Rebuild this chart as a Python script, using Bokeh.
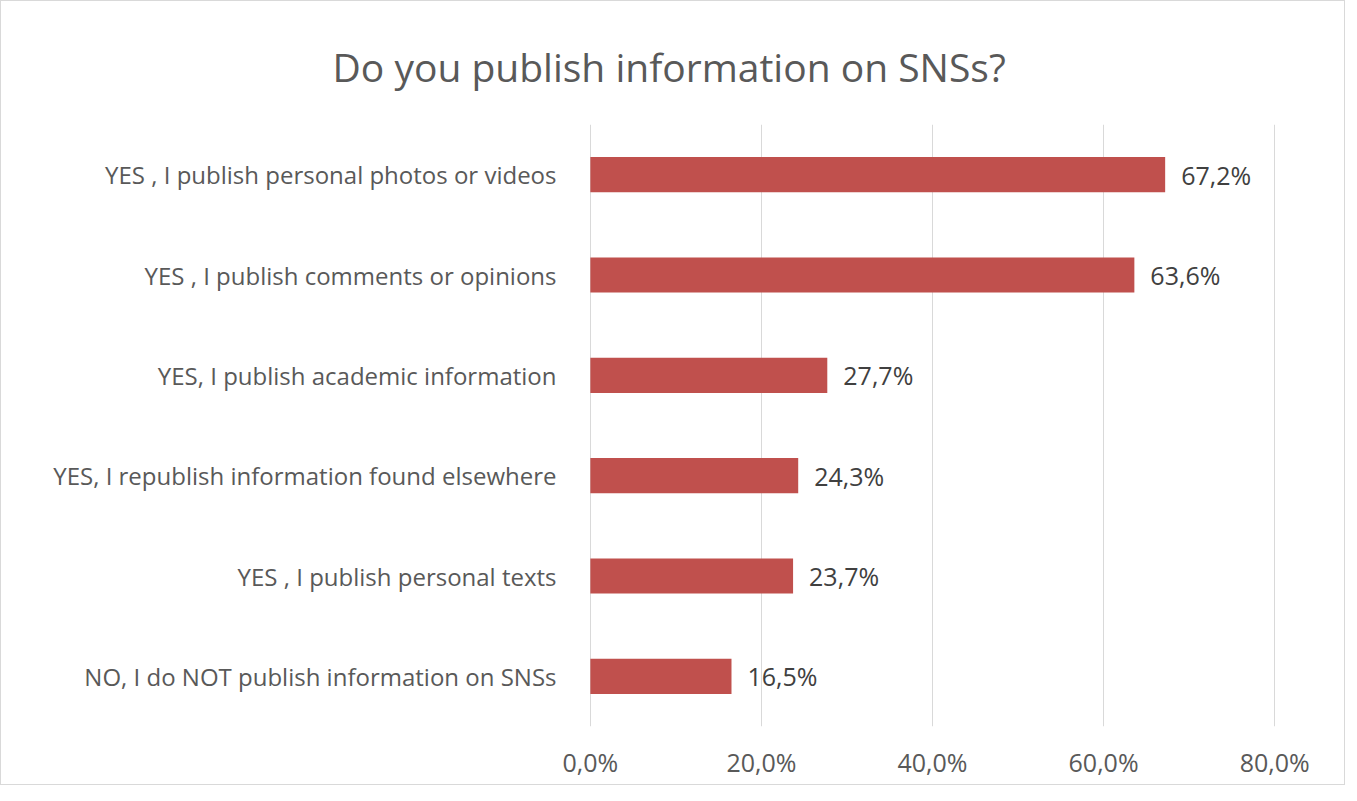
from bokeh.plotting import figure
from bokeh.models import FactorRange, Range1d, FixedTicker, Title, ColumnDataSource
from bokeh.embed import file_html
from bokeh.resources import INLINE
from bokeh.core.properties import value

title_text = "Do you publish information on SNSs?"
categories = [
    "YES , I publish personal photos or videos",
    "YES , I publish comments or opinions",
    "YES, I publish academic information",
    "YES, I republish information found elsewhere",
    "YES , I publish personal texts",
    "NO, I do NOT publish information on SNSs",
]
percent = [67.2, 63.6, 27.7, 24.3, 23.7, 16.5]
tick_values = [0, 20, 40, 60, 80]
tick_labels = ["0,0%", "20,0%", "40,0%", "60,0%", "80,0%"]

FONT = "Open Sans"
BAR = "#C0504D"

W, H = 1345, 785
LEFT, FRAME_W = 588, 686
RIGHT = W - LEFT - FRAME_W
TOP, BOTTOM = 123, 60

factors = list(reversed(categories))
p = figure(
    width=W, height=H,
    y_range=FactorRange(factors=factors, range_padding=0),
    x_range=Range1d(-0.1, 80.1),
    output_backend="svg", toolbar_location=None,
    min_border_left=LEFT, min_border_right=RIGHT,
    min_border_top=TOP, min_border_bottom=BOTTOM,
)
p.styles = {"border": "1px solid #d9d9d9", "box-sizing": "border-box"}
p.outline_line_color = None
p.background_fill_color = "white"
p.border_fill_color = "white"

src = ColumnDataSource(dict(
    cat=categories,
    val=percent,
    lab=[f"{v:.1f}".replace(".", ",") + "%" for v in percent],
))
p.hbar(y="cat", right="val", left=0, height=0.35, source=src,
       fill_color=BAR, line_color=None)
p.text(x="val", y="cat", text="lab", source=src, x_offset=16,
       text_align="left", text_baseline="middle",
       text_font=value(FONT), text_font_size="25px", text_color="#404040")

# axes
p.xaxis.ticker = FixedTicker(ticks=tick_values)
p.xaxis.major_label_overrides = {t: l for t, l in zip(tick_values, tick_labels)}
p.xaxis.axis_line_color = None
p.xaxis.major_tick_line_color = None
p.xaxis.minor_tick_line_color = None
p.xaxis.major_label_standoff = 12
p.xaxis.major_label_text_font = FONT
p.xaxis.major_label_text_font_size = "25px"
p.xaxis.major_label_text_color = "#595959"

p.yaxis.axis_line_color = None
p.yaxis.major_tick_line_color = None
p.yaxis.major_label_standoff = 27
p.yaxis.major_label_text_font = FONT
p.yaxis.major_label_text_font_size = "24px"
p.yaxis.major_label_text_color = "#595959"

p.xgrid.ticker = FixedTicker(ticks=tick_values)
p.xgrid.grid_line_color = "#d9d9d9"
p.xgrid.grid_line_width = 1
p.ygrid.grid_line_color = None

p.add_layout(Title(text=title_text, align="left", offset=-257,
                   vertical_align="middle",
                   text_font=FONT, text_font_size="39px",
                   text_font_style="normal", text_color="#595959",
                   standoff=62), "above")

open("out.html", "w").write(file_html(p, INLINE))
